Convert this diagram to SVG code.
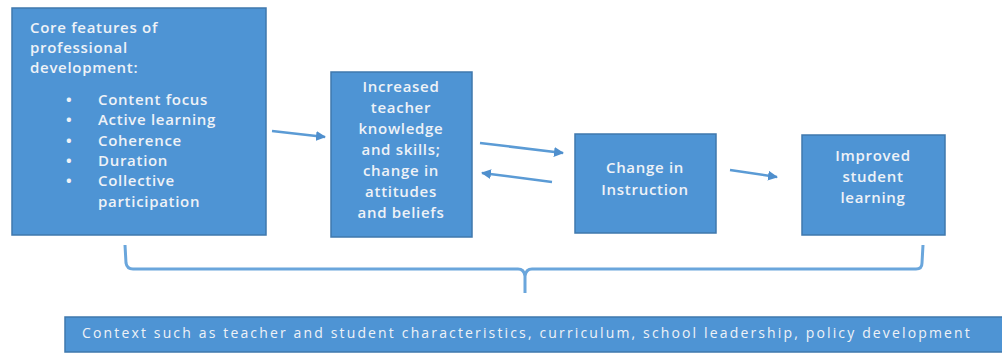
<svg xmlns="http://www.w3.org/2000/svg" width="1002" height="354" viewBox="0 0 1002 354">
<style>
.box{fill:#4e94d4;stroke:#3f78ad;stroke-width:1.5}
.t{font-family:"Open Sans","Liberation Sans",sans-serif;font-size:15px;font-weight:600;fill:#eef2f7;letter-spacing:0.7px}
.c{text-anchor:middle}
.b{font-weight:700}
.s{font-size:14px;font-weight:500;letter-spacing:0.2px}
.ln{stroke:#5b9bd5;stroke-width:2.5;fill:none}
.br{stroke:#6aa6dc;stroke-width:3;fill:none;stroke-linejoin:round}
</style>
<defs>
<marker id="ah" viewBox="0 0 10 10" refX="9" refY="5" markerWidth="4" markerHeight="4" orient="auto" markerUnits="strokeWidth">
<path d="M0,0 L10,5 L0,10 z" fill="#4f8fcd"/>
</marker>
</defs>
<rect width="1002" height="354" fill="#ffffff"/>
<g id="node-core">
<rect class="box" x="12" y="8" width="254" height="227"/>
<text class="t" x="30" y="33">Core features of</text>
<text class="t" x="30" y="53">professional</text>
<text class="t" x="30" y="73">development:</text>
<text class="t b" x="66" y="105">•</text>
<text class="t" x="98" y="105">Content focus</text>
<text class="t b" x="66" y="125">•</text>
<text class="t" x="98" y="125">Active learning</text>
<text class="t b" x="66" y="146">•</text>
<text class="t" x="98" y="146">Coherence</text>
<text class="t b" x="66" y="166">•</text>
<text class="t" x="98" y="166">Duration</text>
<text class="t b" x="66" y="186">•</text>
<text class="t" x="98" y="186">Collective</text>
<text class="t" x="98" y="207">participation</text>
</g>
<g id="node-knowledge">
<rect class="box" x="331" y="72" width="141" height="165"/>
<text class="t c" x="401" y="92">Increased</text>
<text class="t c" x="401" y="113">teacher</text>
<text class="t c" x="401" y="134">knowledge</text>
<text class="t c" x="401" y="155">and skills;</text>
<text class="t c" x="401" y="176">change in</text>
<text class="t c" x="401" y="197">attitudes</text>
<text class="t c" x="401" y="218">and beliefs</text>
</g>
<g id="node-instruction">
<rect class="box" x="575" y="134" width="141" height="99"/>
<text class="t c" x="645" y="173">Change in</text>
<text class="t c" x="645" y="195">Instruction</text>
</g>
<g id="node-learning">
<rect class="box" x="802" y="135" width="143" height="100"/>
<text class="t c" x="873" y="161">Improved</text>
<text class="t c" x="873" y="182">student</text>
<text class="t c" x="873" y="203">learning</text>
</g>
<g id="node-context">
<rect class="box" x="65" y="317" width="940" height="35"/>
<text class="t s" x="82" y="338" textLength="888" lengthAdjust="spacing">Context such as teacher and student characteristics, curriculum, school leadership, policy development</text>
</g>
<g id="connectors">
<line class="ln" x1="272" y1="131" x2="325" y2="137" marker-end="url(#ah)"/>
<line class="ln" x1="480" y1="143" x2="563" y2="153" marker-end="url(#ah)"/>
<line class="ln" x1="552" y1="182" x2="482" y2="173" marker-end="url(#ah)"/>
<line class="ln" x1="730" y1="170" x2="777" y2="177" marker-end="url(#ah)"/>
<path class="br" d="M125,245 L126,263 Q127,269 133,269 L518,269 Q524,269 525,276 L525,293 M525,276 Q526,269 532,269 L916,269 Q922,269 922,263 L923,245"/>
</g>
</svg>
